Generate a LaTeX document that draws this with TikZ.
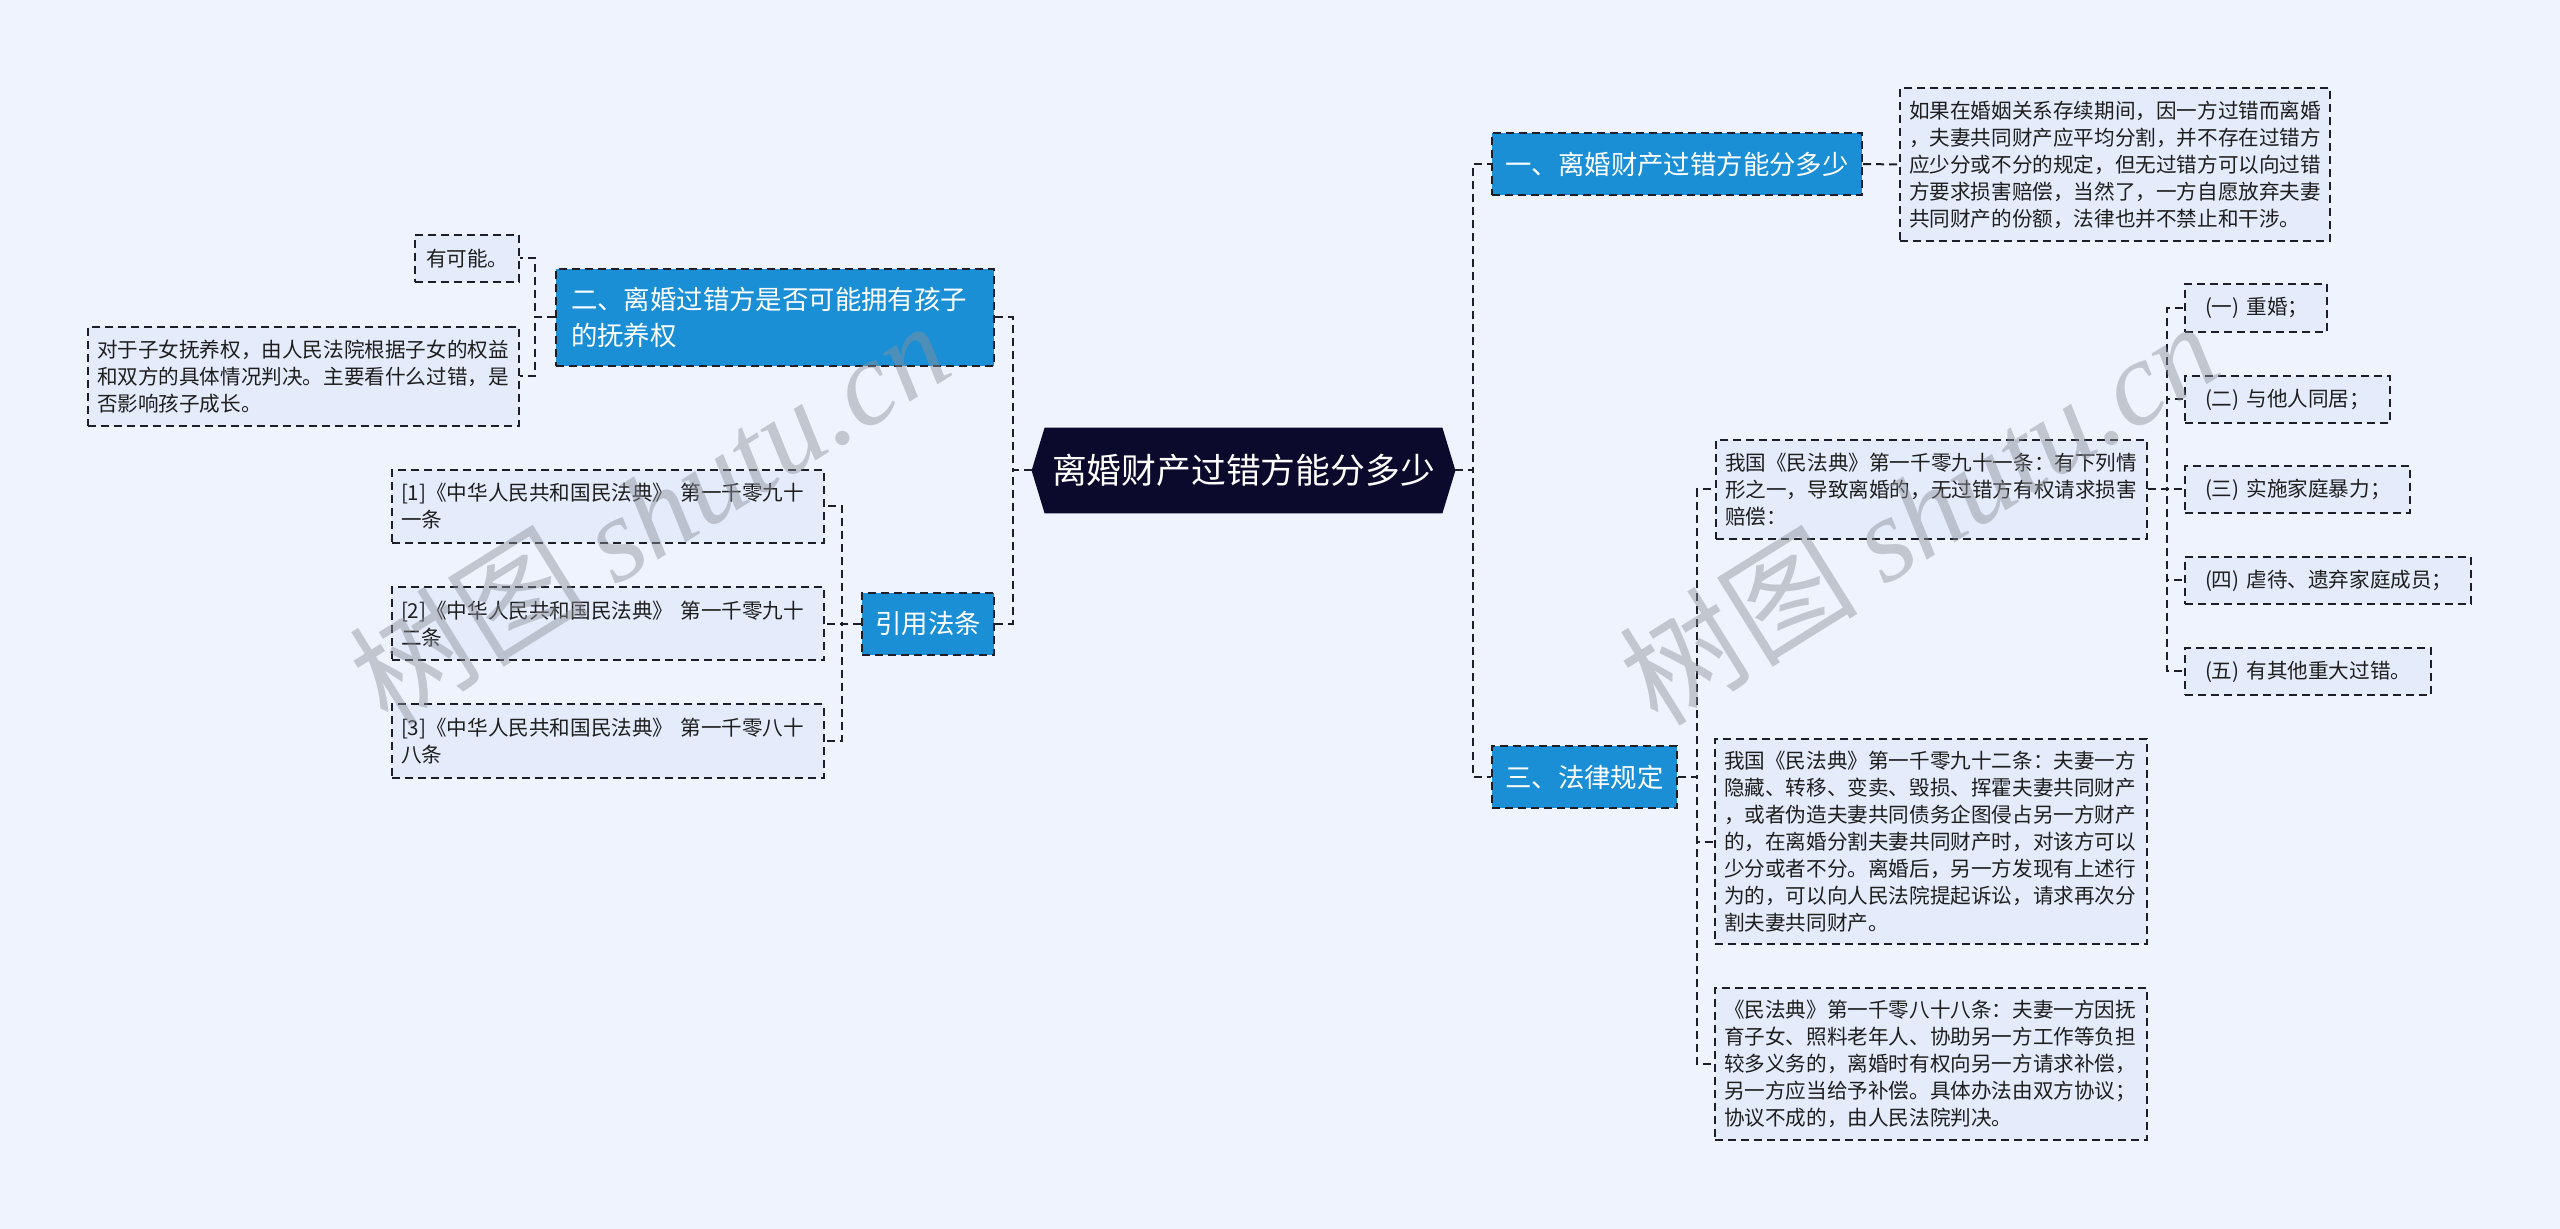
\documentclass[tikz,border=0pt]{standalone}
\usepackage{fontspec}
\setmainfont{Noto Sans CJK SC}
\newfontfamily\wmlatin{Liberation Serif}
\usetikzlibrary{calc}
\pgfdeclarelayer{background}
\pgfsetlayers{background,main}
\definecolor{bgc}{HTML}{EEF3FD}
\definecolor{bluefill}{HTML}{1A8FD5}
\definecolor{navy}{HTML}{0C0A2C}
\definecolor{leaffill}{HTML}{E4EBFB}
\definecolor{edgec}{HTML}{1E1E28}
\definecolor{txt}{HTML}{1E1E1E}
\definecolor{wm}{HTML}{8C9099}
\begin{document}
\begin{tikzpicture}[x=0.5pt,y=-0.5pt,
  dashline/.style={draw=edgec, line width=1pt, dash pattern=on 4pt off 2.5pt},
  conn/.style={dashline},
  rootnode/.style={text=white, font=\fontsize{17.4pt}{22pt}\selectfont, inner sep=0pt, minimum width=211.5pt, minimum height=42.5pt},
  bluenode/.style={dashline, fill=bluefill, text=white, font=\fontsize{13.2pt}{18pt}\selectfont, inner sep=0pt, align=left},
  leaf/.style={dashline, fill=leaffill, text=txt, font=\fontsize{10.3pt}{13.5pt}\selectfont, inner xsep=4.5pt, inner ysep=0pt, align=left},
  item/.style={leaf, inner xsep=10pt},
  wmark/.style={text=wm, opacity=0.45, rotate=32, font=\fontsize{60pt}{60pt}\selectfont, inner sep=0pt}
]
\begin{pgfonlayer}{background}
\fill[bgc] (0,0) rectangle (2560,1229);
\end{pgfonlayer}
\useasboundingbox (0,0) rectangle (2560,1229);

% root
\node[rootnode] (root) at (1243.5,470.5) {离婚财产过错方能分多少};
\begin{pgfonlayer}{background}
\fill[navy] (root.west) -- ([xshift=6.5pt]root.north west) -- ([xshift=-6.5pt]root.north east) -- (root.east) -- ([xshift=-6.5pt]root.south east) -- ([xshift=6.5pt]root.south west) -- cycle;
\end{pgfonlayer}

% level 1
\node[bluenode, minimum width=185pt, minimum height=31pt] (n1) at (1677,164) {一、离婚财产过错方能分多少};
\node[bluenode, inner xsep=7.5pt, text width=204pt, minimum height=48.5pt] (n2) at (775,317.5) {二、离婚过错方是否可能拥有孩子\\的抚养权};
\node[bluenode, minimum width=66pt, minimum height=31pt] (ref) at (928,624) {引用法条};
\node[bluenode, minimum width=92.5pt, minimum height=31pt] (n3) at (1584.5,777) {三、法律规定};

% leaves of n1
\node[leaf, text width=206pt, minimum height=76.5pt] (t1) at (2115,164.5) {如果在婚姻关系存续期间，因一方过错而离婚\\，夫妻共同财产应平均分割，并不存在过错方\\应少分或不分的规定，但无过错方可以向过错\\方要求损害赔偿，当然了，一方自愿放弃夫妻\\共同财产的份额，法律也并不禁止和干涉。};

% leaves of n2
\node[leaf, inner xsep=5.5pt, text width=41pt, minimum height=23.5pt] (yk) at (467,258.5) {有可能。};
\node[leaf, text width=206.5pt, minimum height=49.5pt] (lt) at (303.5,376.5) {对于子女抚养权，由人民法院根据子女的权益\\和双方的具体情况判决。主要看什么过错，是\\否影响孩子成长。};

% leaves of ref
\node[leaf, text width=207pt, minimum height=36.5pt] (r1) at (608,506.5) {[1]《中华人民共和国民法典》~第一千零九十\\一条};
\node[leaf, text width=207pt, minimum height=36.5pt] (r2) at (608,624) {[2]《中华人民共和国民法典》~第一千零九十\\二条};
\node[leaf, text width=207pt, minimum height=36.5pt] (r3) at (608,741) {[3]《中华人民共和国民法典》~第一千零八十\\八条};

% leaves of n3
\node[leaf, text width=206.5pt, minimum height=49.5pt] (la) at (1931.5,489.5) {我国《民法典》第一千零九十一条：有下列情\\形之一，导致离婚的，无过错方有权请求损害\\赔偿：};
\node[leaf, text width=207pt, minimum height=102.5pt] (lb) at (1931,841.5) {我国《民法典》第一千零九十二条：夫妻一方\\隐藏、转移、变卖、毁损、挥霍夫妻共同财产\\，或者伪造夫妻共同债务企图侵占另一方财产\\的，在离婚分割夫妻共同财产时，对该方可以\\少分或者不分。离婚后，另一方发现有上述行\\为的，可以向人民法院提起诉讼，请求再次分\\割夫妻共同财产。};
\node[leaf, text width=207pt, minimum height=76pt] (lc) at (1931,1064) {《民法典》第一千零八十八条：夫妻一方因抚\\育子女、照料老年人、协助另一方工作等负担\\较多义务的，离婚时有权向另一方请求补偿，\\另一方应当给予补偿。具体办法由双方协议；\\协议不成的，由人民法院判决。};

% items of la
\node[item, text width=51pt, minimum height=24pt] (i1) at (2256,308) {(一)~重婚；};
\node[item, text width=82.5pt, minimum height=23.5pt] (i2) at (2287.5,399.5) {(二)~与他人同居；};
\node[item, text width=92.5pt, minimum height=23.5pt] (i3) at (2297.5,489.5) {(三)~实施家庭暴力；};
\node[item, text width=123pt, minimum height=23.5pt] (i4) at (2328,580.5) {(四)~虐待、遗弃家庭成员；};
\node[item, text width=103pt, minimum height=23.5pt] (i5) at (2308,671.5) {(五)~有其他重大过错。};

% connectors
\draw[conn] (root.west) -- ++(-19,0) |- (n2.east);
\draw[conn] (root.west) -- ++(-19,0) |- (ref.east);
\draw[conn] (root.east) -- ++(18,0) |- (n1.west);
\draw[conn] (root.east) -- ++(18,0) |- (n3.west);
\draw[conn] (n1.east) -- (t1.west);
\draw[conn] (n2.west) -- ++(-20,0) |- (yk.east);
\draw[conn] (n2.west) -- ++(-20,0) |- (lt.east);
\draw[conn] (ref.west) -- ++(-19,0) |- (r1.east);
\draw[conn] (ref.west) -- ++(-19,0) |- (r2.east);
\draw[conn] (ref.west) -- ++(-19,0) |- (r3.east);
\draw[conn] (n3.east) -- ++(19,0) |- (la.west);
\draw[conn] (n3.east) -- ++(19,0) |- (lb.west);
\draw[conn] (n3.east) -- ++(19,0) |- (lc.west);
\draw[conn] (la.east) -- ++(19,0) |- (i1.west);
\draw[conn] (la.east) -- ++(19,0) |- (i2.west);
\draw[conn] (la.east) -- ++(19,0) |- (i3.west);
\draw[conn] (la.east) -- ++(19,0) |- (i4.west);
\draw[conn] (la.east) -- ++(19,0) |- (i5.west);

% watermarks
\node[wmark] (wm1) at (649,512) {树图 {\wmlatin\itshape shutu.cn}};
\node[wmark] (wm2) at (1918,512) {树图 {\wmlatin\itshape shutu.cn}};
\end{tikzpicture}
\end{document}
